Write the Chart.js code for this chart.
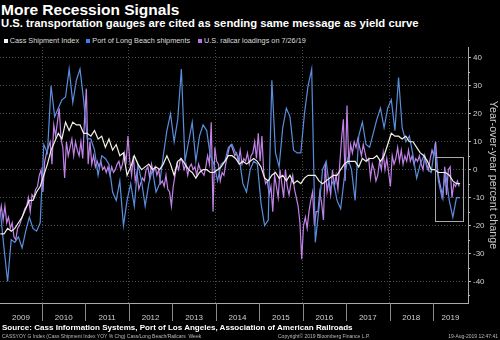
<!DOCTYPE html>
<html>
<head>
<meta charset="utf-8">
<title>More Recession Signals</title>
<script src="https://cdn.jsdelivr.net/npm/chart.js@4.4.0/dist/chart.umd.min.js"></script>
<style>
  body { margin: 0; background: #000; }
  #wrap {
    position: relative; width: 500px; height: 340px; overflow: hidden;
    background: #000; color: #fff;
    font-family: "Liberation Sans", Arial, sans-serif;
  }
  #chart { position: absolute; left: 0; top: 0; }
  .title { position: absolute; left: 1px; top: 2px; font-weight: bold; font-size: 15.5px; line-height: 1; white-space: nowrap; }
  .subtitle { position: absolute; left: 1px; top: 18.1px; font-weight: bold; font-size: 11.3px; line-height: 1; white-space: nowrap; }
  .legend { position: absolute; top: 37px; font-size: 7.3px; line-height: 1; color: #ddd; white-space: nowrap; }
  .swatch { position: absolute; top: 38.5px; width: 4px; height: 4px; }
  .source { position: absolute; left: 2px; top: 323.5px; font-weight: bold; font-size: 8.05px; line-height: 1; white-space: nowrap; }
  .foot { position: absolute; top: 334px; font-size: 5px; line-height: 1; color: #bbb; white-space: nowrap; }
</style>
</head>
<body>
<div id="wrap">
  <div class="title">More Recession Signals</div>
  <div class="subtitle">U.S. transportation gauges are cited as sending same message as yield curve</div>

  <div class="swatch" style="left:4px;background:#f4f4f4"></div>
  <div class="legend" style="left:9.7px">Cass Shipment Index</div>
  <div class="swatch" style="left:86px;background:#3f7fe0"></div>
  <div class="legend" style="left:92.3px">Port of Long Beach shipments</div>
  <div class="swatch" style="left:198px;background:#c070e0"></div>
  <div class="legend" style="left:204px">U.S. railcar loadings on 7/26/19</div>

  <canvas id="chart" width="500" height="340"></canvas>

  <div class="source">Source: Cass Information Systems, Port of Los Angeles, Association of American Railroads</div>
  <div class="foot" style="left:2px">CASSYOY G Index (Cass Shipment Index YOY % Chg) Cass/Long Beach/Railcars &nbsp;Week</div>
  <div class="foot" style="left:278px">Copyright© 2019 Bloomberg Finance L.P.</div>
  <div class="foot" style="right:2px">19-Aug-2019 12:47:41</div>
</div>

<script>
// year-over-year % change, monthly from Jan 2009
const startYear = 2009;
const cassShipments = [
  -23, -23, -21, -22, -21, -19, -17, -14, -11, -11, -8, -6,
  -2, 2, 7, 10, 13, 11, 17, 14, 17, 16, 16, 13,
  13, 12, 14, 11, 12, 8, 11, 7, 9, 5, 6, -2,
  1, 5, 2, 0, 1, 2, 0, 1, 0, 2, 5, 2,
  -2, 3, 4, 2, 0, -1, -3, -1, 0, 0, -1, -1,
  0, 1, 3, 5, 5, 4, 2, 3, 2, 3, 4, 3,
  1, -3, -4, -2, -1, -3, -2, -4, -2, -5, -4, -5,
  -3, -2, -2, -2, -4, -5, -4, -3, -2, -2, 0, 2,
  3, 3, 3, 1, 4, 3, 4, 4, 5, 3, 5, 9,
  13, 12, 12, 11, 12, 10, 10, 8, 6, 5, 3, 0,
  0, -1, -1, -1, -2, -4, -5, -5
];
const longBeach = [
  -15, -28, -40, -25, -26, -24, -28, -22, -17, -21, -22, -19,
  9, 6, 30, 19, 22, 25, 26, 36, 24, 32, 36, 25,
  11, 11, 7, -2, 5, 4, 2, -8, -11, -4, -20, -11,
  -5, -13, 2, -4, -13, -5, 0, -8, -5, 5, 14, 20,
  10, 18, 36, 3, 10, 17, 3, 12, 16, 14, 5, 2,
  -4, 2, 3, 8, 9, 6, 4, -5, -8, 0, 3, 2,
  -12, -20, -18, 32, 6, 1, 15, 22, 19, 7, 6, 6,
  20, 30, 36, -26, -14, 0, 3, -7, -4, -11, -14, -3,
  4, 0, -11, 12, 17, 9, 8, 13, 18, 22, 15, 22,
  25, 14, 33, 15, 10, 12, 5, -3, 2, 5, 0, -1,
  8, -4, -10, -1, -11, -17, -10, -10
];
// railcar loadings, twice a month from Jan 2009
const railcarLoadings = [
  -17, -13, -18, -13, -19, -17, -21, -19, -24, -25,
  -21, -20, -18, -16, -14, -13, -10, -15, -9, -10,
  -7, -6, -2, 0, -8, 3, 6, 8, 10, 2,
  16, 12, 17, 22, 11, 8, -3, 10, 5, 8,
  11, 5, 10, 7, 5, 10, 4, 18, 29, 2,
  10, 2, 5, 1, 3, 1, 3, 0, 1, -1,
  1, -2, 1, -1, 0, 2, 3, 0, 2, 6,
  3, 12, 3, -2, 5, -4, -1, -7, -5, -3,
  -4, 0, 1, -3, 2, -1, 1, -2, 0, -5,
  -4, -6, -2, -7, -8, -13, -6, -2, 2, 0,
  4, 3, 0, 2, -2, 1, 2, 0, 1, -2,
  2, 0, -1, -2, 1, 5, 2, 17, -15, 8,
  3, 2, -4, -1, -2, 2, 5, 8, 9, 7,
  5, 6, 3, 7, 2, 4, 3, 6, 2, 5,
  6, 10, 4, 13, 3, 12, -1, -5, -4, -9,
  -6, -15, -2, -6, -10, 0, -5, -10, 0, -6,
  -9, -5, -2, -7, -10, -13, -19, -32, -20, -17,
  -21, -15, -11, -8, -20, -15, -15, -8, -12, -18,
  2, -8, -4, -9, 0, -6, -2, -7, 2, 11,
  18, -4, 23, 2, 9, 6, 10, 8, 11, 8,
  5, 9, 6, 3, 4, -3, 2, 0, -4, -2,
  3, 0, 6, 0, 4, -1, -6, 5, 2, 4,
  8, 3, 7, 2, 5, 3, 7, 3, 5, 2,
  4, 3, 5, 2, 0, 5, 2, 0, 4, 7,
  5, 10, 0, -4, -7, -10, 1, -9, 0, 1,
  -10, -5, -6, -4, -6
];
const yTicks = [-40, -30, -20, -10, 0, 10, 20, 30, 40];
const yearLabels = [2009, 2010, 2011, 2012, 2013, 2014, 2015, 2016, 2017, 2018, 2019];
const gridYears = [2010, 2012, 2014, 2016, 2018];
// highlighted stretch of 2019
const boxYears = [2019.05, 2019.7];
const boxValues = [-18.3, 4.6];

const toPoints = (vals, perYear) =>
  vals.map((v, i) => ({ x: startYear + (i + 0.5) / perYear, y: v }));

// year separators + labels under the plot, minor ticks, highlight box
const decorations = {
  id: "decorations",
  afterDatasetsDraw(chart) {
    const { ctx, scales: { x, y } } = chart;
    ctx.save();
    ctx.strokeStyle = "#a8a8a8";
    ctx.lineWidth = 1;
    const x1 = Math.round(x.getPixelForValue(boxYears[0])) + 0.5;
    const x2 = Math.round(x.getPixelForValue(boxYears[1])) + 0.5;
    const y1 = Math.round(y.getPixelForValue(boxValues[1])) + 0.5;
    const y2 = Math.round(y.getPixelForValue(boxValues[0])) + 0.5;
    ctx.strokeRect(x1, y1, x2 - x1, y2 - y1);
    ctx.restore();
  },
  afterDraw(chart) {
    const { ctx, chartArea, scales: { x, y } } = chart;
    ctx.save();
    ctx.strokeStyle = "#8a8a8a";
    ctx.lineWidth = 1;
    for (let yr = 2010; yr <= 2019; yr++) {
      const px = Math.round(x.getPixelForValue(yr)) + 0.5;
      ctx.beginPath();
      ctx.moveTo(px, chartArea.bottom);
      ctx.lineTo(px, chartArea.bottom + 18);
      ctx.stroke();
    }
    // minor ticks at the fives
    ctx.strokeStyle = "#bbb";
    for (let v = -45; v <= 40; v += 10) {
      const py = Math.round(y.getPixelForValue(v)) + 0.5;
      ctx.beginPath();
      ctx.moveTo(chartArea.right, py);
      ctx.lineTo(chartArea.right + 2, py);
      ctx.stroke();
    }
    ctx.fillStyle = "#d0d0d0";
    ctx.font = "8px 'Liberation Sans', Arial, sans-serif";
    ctx.textAlign = "center";
    ctx.textBaseline = "middle";
    yearLabels.forEach((yr) => {
      const a = Math.max(x.getPixelForValue(yr), chartArea.left);
      const b = Math.min(x.getPixelForValue(yr + 1), chartArea.right);
      ctx.fillText(String(yr), (a + b) / 2, chartArea.bottom + 15);
    });
    ctx.restore();
  },
};

const line = (label, data, color, order) => ({
  label, data, order,
  borderColor: color,
  borderWidth: 1.2,
  pointRadius: 0,
  tension: 0,
});

new Chart(document.getElementById("chart"), {
  type: "line",
  data: {
    datasets: [
      line("Cass Shipment Index", toPoints(cassShipments, 12), "#f2f0e4", 0),
      line("Port of Long Beach shipments", toPoints(longBeach, 12), "#5a8edc", 1),
      line("U.S. railcar loadings on 7/26/19", toPoints(railcarLoadings, 24), "#c283e8", 2),
    ],
  },
  plugins: [decorations],
  options: {
    responsive: false,
    animation: false,
    devicePixelRatio: 1,
    layout: { padding: { top: 47, bottom: 37, left: 0, right: 0 } },
    plugins: { legend: { display: false }, tooltip: { enabled: false } },
    scales: {
      x: {
        type: "linear",
        min: 2009.033,
        max: 2019.807,
        afterBuildTicks: (s) => { s.ticks = gridYears.map((v) => ({ value: v })); },
        afterFit: (s) => { s.height = 0; },
        ticks: { display: false },
        grid: { color: "#4a4a4a", drawTicks: false },
        border: { display: true, color: "#aaa", dash: [1, 2] },
      },
      y: {
        position: "right",
        min: -47.7,
        max: 43.9,
        afterBuildTicks: (s) => { s.ticks = yTicks.map((v) => ({ value: v })); },
        afterFit: (s) => { s.width = 32; },
        ticks: {
          color: "#d0d0d0",
          padding: 2,
          font: { family: "'Liberation Sans', Arial, sans-serif", size: 8 },
        },
        grid: { color: "#4a4a4a", tickLength: 3, tickColor: "#bbb" },
        border: { display: true, color: "#aaa", dash: [1, 2] },
        title: {
          display: true,
          text: "Year-over-year percent change",
          color: "#c8c8c8",
          padding: { top: 0.5, bottom: 0 },
          font: { family: "'Liberation Sans', Arial, sans-serif", size: 10.8 },
        },
      },
    },
  },
});
</script>
</body>
</html>
